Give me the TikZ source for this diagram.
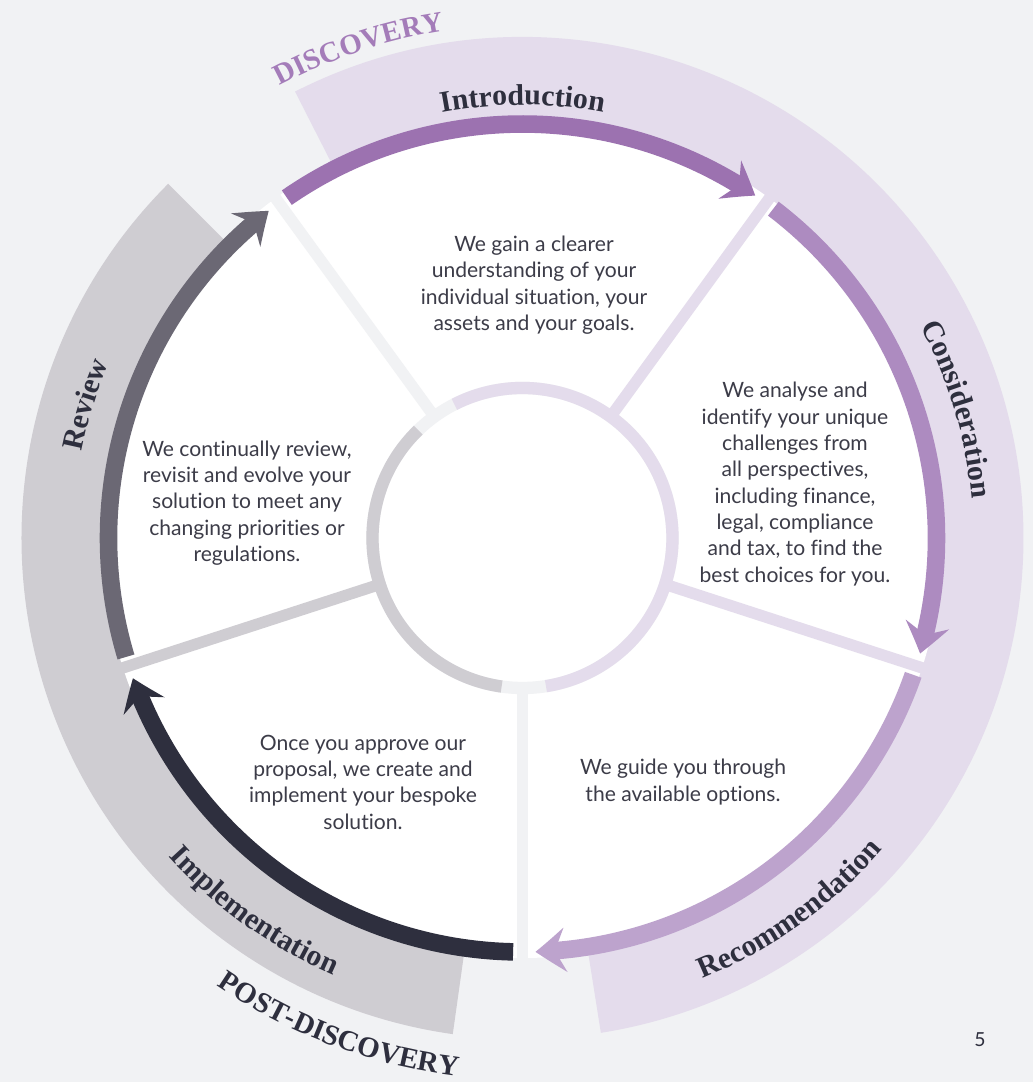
\documentclass[tikz,border=0pt]{standalone}
\usepackage{fontspec}
\setmainfont{Lato}[Ligatures=NoCommon]
\newfontfamily\headfont{Liberation Serif}
\usepackage{xcolor}
\usetikzlibrary{arrows.meta,bending,decorations.text}

\definecolor{pagebg}{HTML}{F1F2F4}
\definecolor{bandpurple}{HTML}{E4DCEC}
\definecolor{bandgrey}{HTML}{CFCDD2}
\definecolor{arrintro}{HTML}{9C72B0}
\definecolor{arrcons}{HTML}{AD8BC0}
\definecolor{arrrec}{HTML}{BDA3CD}
\definecolor{arrimpl}{HTML}{2E2F3E}
\definecolor{arrrev}{HTML}{6B6874}
\definecolor{discpurple}{HTML}{A47CB9}
\definecolor{ink}{HTML}{2E2F3E}
\definecolor{bodyink}{HTML}{3C3C48}

\newcommand\headtxt{\headfont\bfseries\fontsize{17}{20}\selectfont\color{ink}}
\newcommand\phasetxt{\headfont\bfseries\fontsize{16.5}{20}\selectfont}

\begin{document}
\begin{tikzpicture}[x=0.02cm, y=0.02cm,
    arrowline/.style={line width=10pt, -{Stealth[length=17pt,width=25pt,inset=6pt,bend]}},
    spoke/.style={line width=6.5pt},
    blurb/.style={align=center, font=\fontsize{12}{15}\selectfont, text=bodyink},
    steplabel/.style={decorate, decoration={text along path, text align=center, text={#1}}}]

    % Page
    \fill[pagebg] (-522.5,-544) rectangle (510.5,538);
    \useasboundingbox (-522.5,-544) rectangle (510.5,538);

    % Bands
    \fill[bandpurple] (117:501) arc[start angle=117, end angle=-81, radius=501]
        -- (-81:400) arc[start angle=-81, end angle=117, radius=400] -- cycle;
    \fill[bandgrey] (135:501) arc[start angle=135, end angle=262, radius=501]
        -- (262:400) arc[start angle=262, end angle=135, radius=400] -- cycle;
    \fill[white] (0,0) circle[radius=420];

    % Inner ring
    \draw[pagebg, line width=7pt] (0,0) circle[radius=150];
    \draw[bandpurple, line width=7pt] (117:150) arc[start angle=117, end angle=-81, radius=150];
    \draw[bandgrey, line width=7pt] (134:150) arc[start angle=134, end angle=262, radius=150];

    % Spokes
    \draw[spoke, pagebg] (126:153) -- (126:421);
    \draw[spoke, bandpurple] (54:153) -- (54:421);
    \draw[spoke, bandpurple] (-18:153) -- (-18:421);
    \draw[spoke, pagebg] (-90:153) -- (-90:421);
    \draw[spoke, bandgrey] (198:153) -- (198:421);

    % Arrows
    \draw[arrowline, arrintro] (124.7:414) arc[start angle=124.7, end angle=55.8, radius=414];
    \draw[arrowline, arrcons] (52.7:414) arc[start angle=52.7, end angle=-16.2, radius=414];
    \draw[arrowline, arrrec] (-19.3:414) arc[start angle=-19.3, end angle=-88.2, radius=414];
    \draw[arrowline, arrimpl] (-91.3:414) arc[start angle=-91.3, end angle=-160.2, radius=414];
    \draw[arrowline, arrrev] (196.7:414) arc[start angle=196.7, end angle=127.8, radius=414];

    % Step names
    \path[steplabel={|\headtxt|Introduction}] (110:433) arc[start angle=110, end angle=70, radius=433];
    \path[steplabel={|\headtxt|Consideration}] (36:451) arc[start angle=36, end angle=-3, radius=451];
    \path[steplabel={|\headtxt|Recommendation}] (-74.3:476) arc[start angle=-74.3, end angle=-34.3, radius=476];
    \path[steplabel={|\headtxt|Implementation}] (214.3:476) arc[start angle=214.3, end angle=254.3, radius=476];
    \path[steplabel={|\headtxt|Review}] (182:449) arc[start angle=182, end angle=144, radius=449];

    % Phases
    \path[steplabel={|\phasetxt\color{discpurple}|DISCOVERY}] (128:513) arc[start angle=128, end angle=89, radius=513];
    \path[steplabel={|\phasetxt\color{ink}|POST-DISCOVERY}] (229.4:542) arc[start angle=229.4, end angle=269.4, radius=542];

    % Texts
    \node[blurb] (introtxt) at (11.5,253) {We gain a clearer\\understanding of your\\individual situation, your\\assets and your goals.};
    \node[blurb] (constxt) at (272.5,54) {We analyse and\\identify your unique\\challenges from\\all perspectives,\\including finance,\\legal, compliance\\and tax, to find the\\best choices for you.};
    \node[blurb] (rectxt) at (160.5,-244) {We guide you through\\the available options.};
    \node[blurb] (impltxt) at (-159.5,-244) {Once you approve our\\proposal, we create and\\implement your bespoke\\solution.};
    \node[blurb] (revtxt) at (-275.5,35) {We continually review,\\revisit and evolve your\\solution to meet any\\changing priorities or\\regulations.};
    \node[font=\fontsize{11}{13}\selectfont, text=ink] (pagenum) at (457.5,-502) {5};
\end{tikzpicture}
\end{document}
